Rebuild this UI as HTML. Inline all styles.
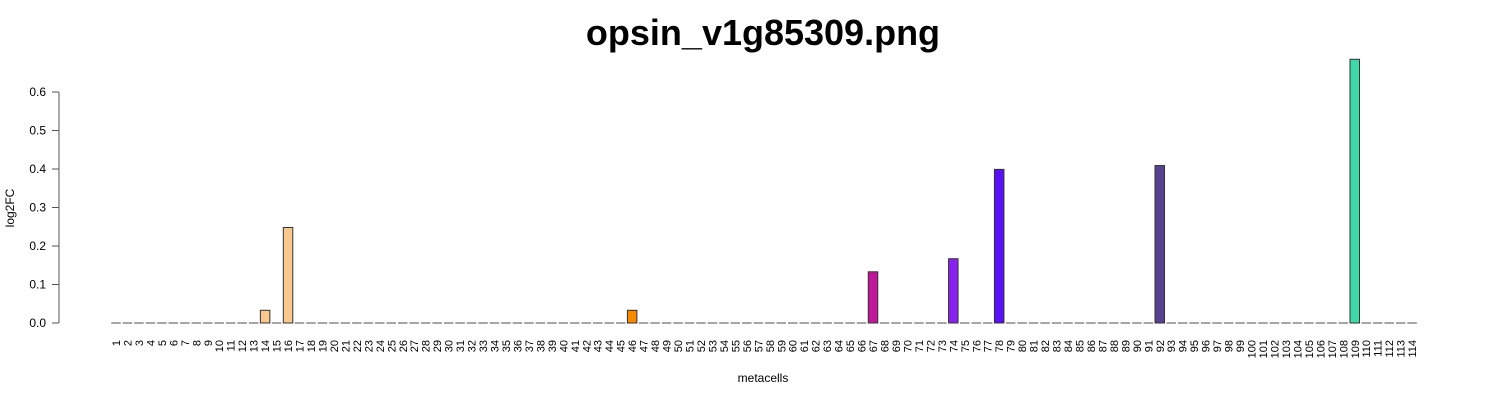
<!DOCTYPE html>
<html><head><meta charset="utf-8"><style>body{margin:0;background:#fff}svg{display:block;font-family:"Liberation Sans",sans-serif}</style></head>
<body>
<svg id="chart" width="1500" height="400">
<text x="763" y="45" text-anchor="middle" font-size="36" font-weight="bold">opsin_v1g85309.png</text>
<text transform="translate(14,208) rotate(-90)" text-anchor="middle" font-size="12">log2FC</text>
<text x="763" y="382" text-anchor="middle" font-size="12">metacells</text>
<g id="yaxis"></g><g id="bars"></g><g id="xlabels"></g>
</svg>
<script>
const nBars = 114;
const barIndices = [14, 16, 46, 67, 74, 78, 92, 109];
const barValues = [0.033, 0.248, 0.033, 0.133, 0.167, 0.399, 0.409, 0.685];
const barColors = ["#f8c88e", "#f8c88e", "#f88a00", "#c0189a", "#8a22ee", "#5a10f5", "#58418f", "#40d8a8"];
const yTicks = [0, 0.1, 0.2, 0.3, 0.4, 0.5, 0.6];
const NS = "http://www.w3.org/2000/svg";
function y(v){return 323 - v*385;}
function xc(i){return 116 + (i-1)*11.47;}
const bw = 9.5;
function mk(tag, attrs, parent){const e=document.createElementNS(NS,tag);for(const k in attrs)e.setAttribute(k,attrs[k]);document.getElementById(parent).appendChild(e);return e;}
let ax = mk("line",{x1:59,x2:59,y1:y(0),y2:y(0.6),stroke:"#555","stroke-width":1},"yaxis");


yTicks.forEach(t=>{
  const l = mk("line",{x1:52,x2:59,y1:y(t),y2:y(t),stroke:"#555"},"yaxis");
  
  
  const tx = mk("text",{x:46,y:y(t)+4,"text-anchor":"end","font-size":12},"yaxis");
  tx.textContent = t.toFixed(1);
  
  
});
for(let i=1;i<=nBars;i++){
  const k = barIndices.indexOf(i);
  const v = k>=0 ? barValues[k] : 0;
  const x0 = xc(i)-bw/2;
  if(v>0){
    const r = mk("rect",{x:x0,y:y(v),width:bw,height:y(0)-y(v),fill:barColors[k],stroke:"#333","stroke-width":1},"bars");
    
    
  } else {
    const r = mk("line",{x1:x0,x2:x0+bw,y1:y(0),y2:y(0),stroke:"#888","stroke-width":1.5},"bars");
    
    
  }
  const t = mk("text",{transform:`translate(${xc(i)+4},340) rotate(-90)`,"text-anchor":"end","font-size":11},"xlabels");
  t.textContent = i;
  
  
}
</script>
</body></html>
